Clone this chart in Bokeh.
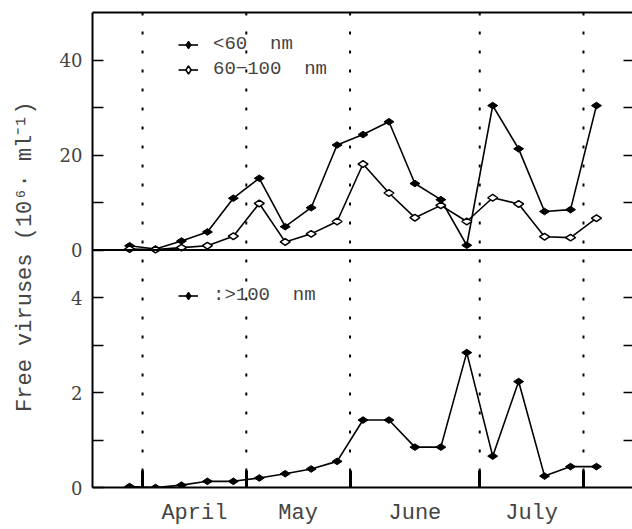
from math import pi
from bokeh.plotting import figure
from bokeh.models import Range1d, LinearAxis, FixedTicker, Span, Legend, LegendItem
from bokeh.embed import file_html
from bokeh.resources import INLINE

# ---- data ----
samples = [0, 1, 2, 3, 4, 5, 6, 7, 8, 9, 10, 11, 12, 13, 14, 15, 16, 17, 18]
small_lt60 = [0.9, 0.2, 1.9, 3.8, 10.9, 15.1, 4.9, 8.9, 22.1, 24.3, 27.0,
              14.0, 10.6, 1.0, 30.4, 21.3, 8.1, 8.5, 30.4]
mid_60_100 = [0.2, 0.1, 0.5, 0.9, 2.9, 9.8, 1.7, 3.4, 6.0, 18.1, 12.0,
              6.8, 9.4, 6.0, 11.0, 9.7, 2.8, 2.6, 6.7]
large_gt100 = [0.02, 0.0, 0.05, 0.13, 0.13, 0.2, 0.29, 0.39, 0.55, 1.42, 1.42,
               0.85, 0.85, 2.84, 0.66, 2.23, 0.24, 0.44, 0.44]
months = ["April", "May", "June", "July"]
month_centres = [2.5, 6.5, 11, 15.5]
month_starts = [0.5, 4.5, 8.5, 13.5, 17.5]
lower_ticks = [0, 2, 4]
lower_minor = [1, 3]
upper_ticks = [0, 20, 40]
upper_minor = [10, 30]
LOWER_MAX = 5
UPPER_MAX = 50

NUM_FONT = "DejaVu Serif"
TXT_FONT = "Liberation Mono"

p = figure(width=632, height=528,
           x_range=Range1d(-1.43, 19.39),
           y_range=Range1d(0, 2 * LOWER_MAX),
           output_backend="svg", toolbar_location=None,
           x_axis_location=None, y_axis_location=None,
           min_border_left=92, min_border_right=0,
           min_border_top=12, min_border_bottom=41)
p.extra_y_ranges = {"upper": Range1d(-UPPER_MAX, UPPER_MAX)}
p.grid.grid_line_color = None
p.outline_line_color = None
p.background_fill_color = "white"
p.border_fill_color = "white"

# y ticks: lower panel uses the default range, upper panel ticks mapped onto it
scale = LOWER_MAX / UPPER_MAX
ytick_pos = lower_ticks + [LOWER_MAX + v * scale for v in upper_ticks]
yminor_pos = lower_minor + [LOWER_MAX + v * scale for v in upper_minor]
ylabels = {pos: str(v) for pos, v in zip(ytick_pos, lower_ticks + upper_ticks)}

yax = LinearAxis(ticker=FixedTicker(ticks=ytick_pos, minor_ticks=yminor_pos),
                 major_label_overrides=ylabels,
                 axis_label="Free viruses  (10\u2076\u00b7 ml\u207b\u00b9)",
                 axis_label_text_font=TXT_FONT, axis_label_text_font_size="22px",
                 axis_label_text_font_style="normal",
                 axis_label_standoff=19,
                 major_label_text_font=NUM_FONT, major_label_text_font_size="18px",
                 major_label_standoff=10,
                 axis_line_width=2, axis_line_color="black",
                 major_tick_in=11, major_tick_out=0, major_tick_line_width=1.5,
                 minor_tick_in=11, minor_tick_out=0, minor_tick_line_width=1.5)
p.add_layout(yax, "left")

# right side: inward ticks only (minor ticks carry no labels)
right_pos = sorted([t for t in ytick_pos + yminor_pos if t not in (0, LOWER_MAX)])
rax = LinearAxis(ticker=FixedTicker(ticks=[], minor_ticks=right_pos),
                 axis_line_color=None,
                 major_tick_in=0, major_tick_out=0,
                 minor_tick_in=9, minor_tick_out=0, minor_tick_line_width=1.5)
p.add_layout(rax, "right")

xax = LinearAxis(ticker=FixedTicker(ticks=month_centres, minor_ticks=month_starts),
                 major_label_overrides=dict(zip(month_centres, months)),
                 major_label_text_font=TXT_FONT, major_label_text_font_size="22px",
                 major_label_standoff=13,
                 axis_line_width=2, axis_line_color="black",
                 major_tick_in=0, major_tick_out=0,
                 minor_tick_in=17, minor_tick_out=0, minor_tick_line_width=3)
p.add_layout(xax, "below")

tax = LinearAxis(ticker=FixedTicker(ticks=[]),
                 axis_line_width=2, axis_line_color="black",
                 major_tick_in=0, major_tick_out=0,
                 minor_tick_in=0, minor_tick_out=0)
p.add_layout(tax, "above")

# month boundaries (dotted) and the panel separator
for b in month_starts:
    p.add_layout(Span(location=b, dimension="height", line_color="black",
                      line_width=2, line_dash="3 16"))
p.add_layout(Span(location=LOWER_MAX, dimension="width", line_color="black",
                  line_width=2))

# wide diamonds, as in the reference
MK = dict(marker="diamond", size=10, angle=pi / 2)

# upper panel
l1 = p.line(samples, small_lt60, y_range_name="upper", line_color="black", line_width=1.6)
s1 = p.scatter(samples, small_lt60, y_range_name="upper", fill_color="black",
               line_color="black", line_width=1, **MK)
l2 = p.line(samples, mid_60_100, y_range_name="upper", line_color="black", line_width=1.6)
s2 = p.scatter(samples, mid_60_100, y_range_name="upper", fill_color="white",
               line_color="black", line_width=1.5, **MK)

# lower panel
l3 = p.line(samples, large_gt100, line_color="black", line_width=1.6)
s3 = p.scatter(samples, large_gt100, fill_color="black", line_color="black",
               line_width=1, **MK)

common = dict(padding=0, spacing=3, glyph_width=20, glyph_height=21, label_height=21,
              label_standoff=15, border_line_color=None, background_fill_alpha=0,
              label_text_font=TXT_FONT, label_text_font_size="19px")
leg1 = Legend(items=[LegendItem(label="<60  nm", renderers=[l1, s1]),
                     LegendItem(label="60\u2212100  nm", renderers=[l2, s2])],
              location=(86, 407), **common)
leg2 = Legend(items=[LegendItem(label=":>100  nm", renderers=[l3, s3])],
              location=(86, 181), **common)
p.add_layout(leg1)
p.add_layout(leg2)

open("out.html", "w").write(file_html(p, INLINE))
